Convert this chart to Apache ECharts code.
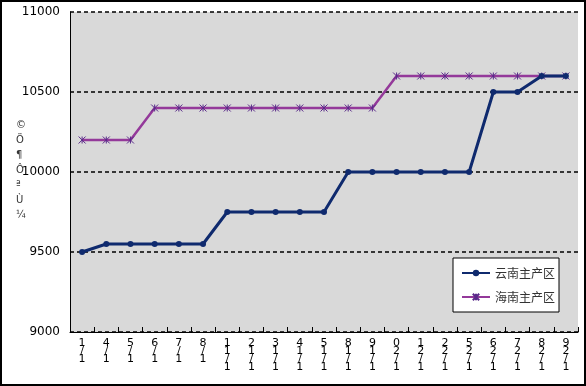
<!DOCTYPE html>
<html><head><meta charset="utf-8">
<script src="https://cdn.jsdelivr.net/npm/echarts@6/dist/echarts.min.js"></script>
<style>html,body{margin:0;padding:0;background:#fff}#c{width:586px;height:386px}</style>
</head><body><div id="c"></div>
<script>
const categories = ["1/1","1/4","1/5","1/6","1/7","1/8","1/11","1/12","1/13","1/14","1/15","1/18","1/19","1/20","1/21","1/22","1/25","1/26","1/27","1/28","1/29"];
const yunnan = [9500,9550,9550,9550,9550,9550,9750,9750,9750,9750,9750,10000,10000,10000,10000,10000,10000,10500,10500,10600,10600];
const hainan = [10200,10200,10200,10400,10400,10400,10400,10400,10400,10400,10400,10400,10400,10600,10600,10600,10600,10600,10600,10600,10600];
const yTicks = [9000,9500,10000,10500,11000];
const seriesNames = ["云南主产区","海南主产区"];
const yName = "©Ö¶ÔªÙ¼";

const star = 'path://M0,0L10,10M10,0L0,10M5,0L5,10';
const chart = echarts.init(document.getElementById('c'));
chart.setOption({
  animation:false,
  backgroundColor:'#fff',
  grid:{left:70,right:8,top:12,bottom:54,show:true,backgroundColor:'#d9d9d9',borderWidth:0},
  xAxis:{type:'category',data:categories,boundaryGap:true,
    axisLine:{lineStyle:{color:'#000',width:1}},
    axisTick:{show:true,inside:true,length:5,lineStyle:{color:'#000'}},
    axisLabel:{interval:0,margin:7,fontSize:11,lineHeight:8,color:'#000',fontFamily:'DejaVu Sans',
      formatter:v=>v.split('').reverse().join('\n')}},
  yAxis:{type:'value',min:yTicks[0],max:yTicks[yTicks.length-1],interval:500,
    axisLine:{show:true,lineStyle:{color:'#000',width:1}},axisTick:{show:false},
    axisLabel:{margin:10,fontSize:12,color:'#000',fontFamily:'DejaVu Sans',formatter:v=>String(v)},
    splitLine:{show:true,lineStyle:{color:'#000',type:[4,3],width:1.5}}},
  legend:{show:true,orient:'vertical',left:453,top:258,
    padding:[9,4,9,8],itemGap:12,itemWidth:28,itemHeight:8,
    backgroundColor:'#fff',borderColor:'#000',borderWidth:1,
    textStyle:{fontFamily:'Noto Sans CJK SC',fontSize:12,color:'#333'},
    data:seriesNames},
  series:[
    {name:seriesNames[0],type:'line',data:yunnan,symbol:'circle',symbolSize:6,
      lineStyle:{color:'#0f2a6e',width:3},itemStyle:{color:'#0f2a6e'},z:3},
    {name:seriesNames[1],type:'line',data:hainan,symbol:star,symbolSize:7,
      lineStyle:{color:'#94399a',width:2.5},itemStyle:{color:'#94399a',borderColor:'#5a2a8a',borderWidth:1},z:2}
  ],
  graphic:[
    {type:'rect',shape:{x:1,y:1,width:584,height:384},style:{fill:'none',stroke:'#000',lineWidth:2},silent:true},
    {type:'text',left:16,top:118,style:{text:yName.split('').join('\n'),fontSize:10,lineHeight:15,fill:'#333',fontFamily:'DejaVu Sans'}}
  ]
});
</script></body></html>
